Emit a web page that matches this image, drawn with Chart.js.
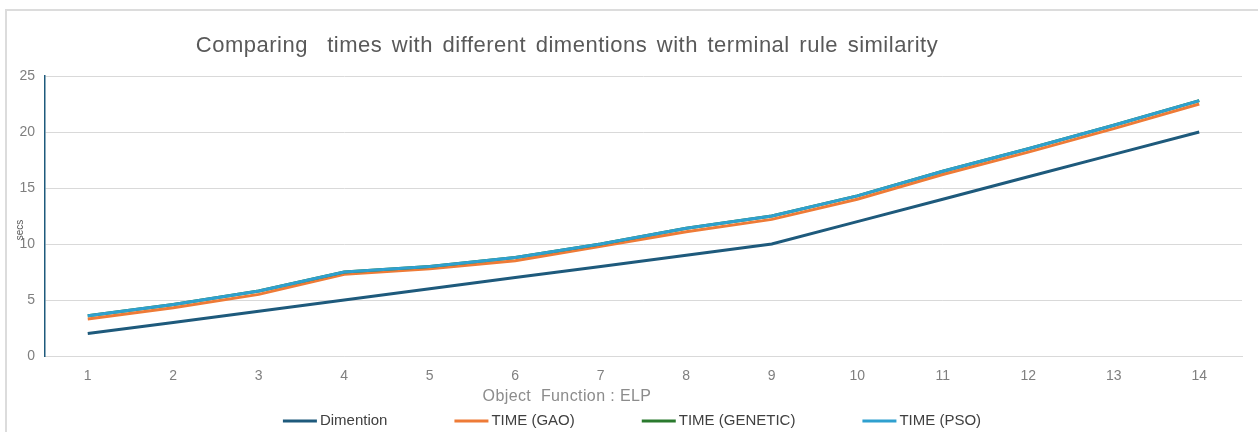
<!DOCTYPE html>
<html>
<head>
<meta charset="utf-8">
<script src="https://cdn.jsdelivr.net/npm/chart.js@4"></script>
<style>
  html, body { margin: 0; padding: 0; background: #fff; }
  #wrap { position: relative; width: 1258px; height: 432px; }
  #frame { position: absolute; left: 5px; top: 9px; right: 0; bottom: 0;
           border-left: 2px solid #dcdcdc; border-top: 2px solid #dcdcdc; }
  canvas { position: absolute; left: 0; top: 0; }
</style>
</head>
<body>
<div id="wrap">
  <div id="frame"></div>
  <canvas id="timesChart" width="1258" height="432"></canvas>
</div>
<script>
var categories = ['1','2','3','4','5','6','7','8','9','10','11','12','13','14'];
var seriesNames = ['Dimention', 'TIME (GAO)', 'TIME (GENETIC)', 'TIME (PSO)'];
var seriesColors = ['#1e5a7c', '#ee7b37', '#2a7a2e', '#2fa0cf'];
var dimention = [2, 3, 4, 5, 6, 7, 8, 9, 10, 12, 14, 16, 18, 20];
var timeGao = [3.3, 4.3, 5.5, 7.3, 7.8, 8.5, 9.8, 11.1, 12.2, 14.0, 16.2, 18.2, 20.3, 22.5];
var timeGenetic = [3.6, 4.6, 5.8, 7.5, 8.0, 8.8, 10.0, 11.4, 12.5, 14.3, 16.5, 18.5, 20.6, 22.8];
var timePso = [3.6, 4.6, 5.8, 7.5, 8.0, 8.8, 10.0, 11.4, 12.5, 14.3, 16.5, 18.5, 20.6, 22.8];

var chartTitle = 'Comparing  times with different dimentions with terminal rule similarity';
var xTitle = 'Object  Function : ELP';
var yTitle = 'secs';

const FONT = "'Liberation Sans', Arial, sans-serif";

// titles and legend drawn by hand, Excel puts them a bit left of centre
const extraText = {
    id: 'extraText',
    afterDraw(chart) {
        const ctx = chart.ctx;
        ctx.save();
        ctx.fillStyle = '#595959';
        ctx.textBaseline = 'middle';
        ctx.textAlign = 'center';
        ctx.font = '22px ' + FONT;
        ctx.letterSpacing = '0.5px';
        ctx.wordSpacing = '3px';
        ctx.fillText(chartTitle, 567, 46);

        ctx.fillStyle = '#8c8c8c';
        ctx.font = '16px ' + FONT;
        ctx.letterSpacing = '0.4px';
        ctx.wordSpacing = '0px';
        ctx.fillText(xTitle, 567, 397);
        ctx.letterSpacing = '0px';

        ctx.save();
        ctx.translate(20, 230);
        ctx.rotate(-Math.PI / 2);
        ctx.fillStyle = '#595959';
        ctx.font = '10px ' + FONT;
        ctx.fillText(yTitle, 0, 0);
        ctx.restore();

        // legend
        ctx.font = '15px ' + FONT;
        ctx.textAlign = 'left';
        const lineW = 34, gap = 3, between = 67;
        let widths = seriesNames.map(n => lineW + gap + ctx.measureText(n).width);
        let total = widths.reduce((a, b) => a + b, 0) + between * (widths.length - 1);
        let x = 632 - total / 2;
        const y = 421;
        seriesNames.forEach((n, i) => {
            ctx.strokeStyle = seriesColors[i];
            ctx.lineWidth = 3;
            ctx.beginPath();
            ctx.moveTo(x, y);
            ctx.lineTo(x + lineW, y);
            ctx.stroke();
            ctx.fillStyle = '#404040';
            ctx.fillText(n, x + lineW + gap, y);
            x += widths[i] + between;
        });
        ctx.restore();
    }
};

// lower order is drawn on top, PSO sits over the others
const drawOrder = [3, 2, 1, 0];
const datasets = [dimention, timeGao, timeGenetic, timePso].map((vals, i) => ({
    label: seriesNames[i],
    data: vals,
    borderColor: seriesColors[i],
    backgroundColor: seriesColors[i],
    borderWidth: 3,
    pointRadius: 0,
    tension: 0,
    fill: false,
    order: drawOrder[i]
}));

new Chart('timesChart', {
    type: 'line',
    data: { labels: categories, datasets: datasets },
    options: {
        responsive: false,
        animation: false,
        layout: { padding: { top: 76, right: 16, left: 0, bottom: 0 } },
        plugins: {
            legend: { display: false },
            title: { display: false },
            tooltip: { enabled: false }
        },
        scales: {
            x: {
                offset: true,
                grid: { display: false, drawTicks: false },
                border: { display: true, color: '#d9d9d9', width: 1 },
                ticks: { color: '#7f7f7f', font: { size: 14, family: FONT }, padding: 12, maxRotation: 0 },
                afterFit: scale => { scale.height = 76; }
            },
            y: {
                min: 0,
                max: 25,
                ticks: { stepSize: 5, color: '#7f7f7f', font: { size: 14, family: FONT }, padding: 10 },
                grid: { color: '#d9d9d9', lineWidth: 1, drawTicks: false },
                border: { display: true, color: '#1e5a7c', width: 1.5 },
                afterFit: scale => { scale.width = 45; }
            }
        }
    },
    plugins: [extraText]
});
</script>
</body>
</html>
